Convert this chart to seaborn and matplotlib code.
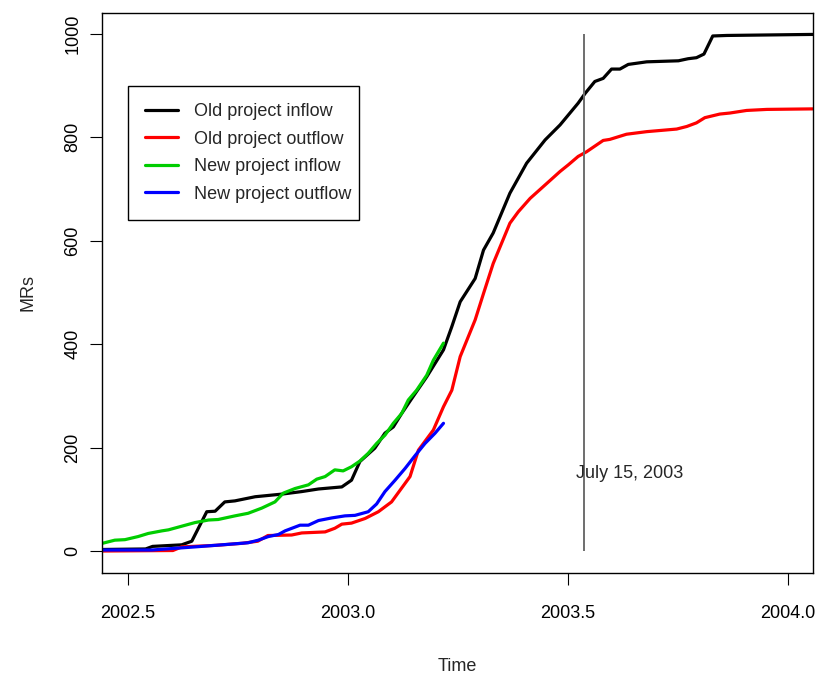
"""
Cumulative MRs over time: old vs new project inflow / outflow.
"""

import pandas as pd
import matplotlib
matplotlib.use("Agg")
import matplotlib.pyplot as plt
from matplotlib.lines import Line2D
from matplotlib.patches import Rectangle
import seaborn as sns

# === data ===
old_in_t = [2002.440, 2002.540, 2002.556, 2002.622, 2002.645, 2002.679, 2002.698,
            2002.720, 2002.743, 2002.789, 2002.849, 2002.895, 2002.933, 2002.986,
            2003.008, 2003.027, 2003.061, 2003.084, 2003.103, 2003.122, 2003.145,
            2003.179, 2003.217, 2003.236, 2003.255, 2003.289, 2003.308, 2003.330,
            2003.368, 2003.406, 2003.448, 2003.482, 2003.523, 2003.539, 2003.561,
            2003.580, 2003.599, 2003.618, 2003.637, 2003.679, 2003.751, 2003.773,
            2003.792, 2003.809, 2003.829, 2003.861, 2004.056]
old_in_v = [3, 4, 9, 12, 19, 76, 77,
            95, 97, 105, 110, 115, 120, 124,
            137, 173, 199, 228, 240, 266, 295,
            337, 389, 434, 482, 527, 582, 615,
            692, 750, 795, 824, 866, 885, 908,
            914, 932, 932, 941, 946, 948, 952,
            954, 961, 996, 997, 999]

old_out_t = [2002.440, 2002.602, 2002.622, 2002.700, 2002.760, 2002.795, 2002.818,
             2002.872, 2002.895, 2002.948, 2002.970, 2002.986, 2003.008, 2003.039,
             2003.069, 2003.099, 2003.141, 2003.160, 2003.194, 2003.217, 2003.236,
             2003.255, 2003.289, 2003.308, 2003.330, 2003.368, 2003.387, 2003.414,
             2003.452, 2003.482, 2003.501, 2003.523, 2003.542, 2003.580, 2003.595,
             2003.633, 2003.679, 2003.747, 2003.770, 2003.792, 2003.811, 2003.845,
             2003.868, 2003.906, 2003.952, 2004.056]
old_out_v = [0, 1, 8, 11, 15, 19, 30,
             31, 35, 37, 44, 52, 54, 63,
             76, 95, 144, 195, 234, 279, 311,
             376, 447, 498, 556, 634, 656, 682,
             711, 734, 747, 763, 772, 794, 796,
             806, 811, 816, 821, 828, 838, 845,
             847, 852, 854, 855]

new_in_t = [2002.442, 2002.470, 2002.493, 2002.523, 2002.546, 2002.577, 2002.592,
            2002.622, 2002.652, 2002.683, 2002.705, 2002.743, 2002.773, 2002.804,
            2002.834, 2002.853, 2002.880, 2002.910, 2002.929, 2002.948, 2002.970,
            2002.989, 2003.008, 2003.027, 2003.046, 2003.065, 2003.084, 2003.103,
            2003.122, 2003.137, 2003.156, 2003.179, 2003.194, 2003.217]
new_in_v = [15, 21, 22, 28, 34, 39, 41,
            48, 55, 60, 61, 68, 73, 83,
            95, 112, 121, 128, 139, 144, 157,
            155, 163, 174, 189, 208, 224, 247,
            266, 292, 311, 340, 369, 402]

new_out_t = [2002.440, 2002.554, 2002.652, 2002.728, 2002.773, 2002.796, 2002.819,
             2002.842, 2002.857, 2002.891, 2002.910, 2002.933, 2002.963, 2002.993,
             2003.016, 2003.046, 2003.065, 2003.084, 2003.107, 2003.130, 2003.152,
             2003.175, 2003.198, 2003.217]
new_out_v = [2, 2, 8, 13, 16, 21, 28,
             32, 39, 50, 50, 59, 64, 68,
             69, 76, 91, 115, 137, 160, 184,
             208, 228, 247]

series_names = ["Old project inflow", "Old project outflow",
                "New project inflow", "New project outflow"]
series_colors = ["#000000", "#FF0000", "#00CD00", "#0000FF"]

marker_date = 2003.536
marker_label = "July 15, 2003"

# === long-form table ===
frames = []
for name, t, v in zip(series_names,
                      [old_in_t, old_out_t, new_in_t, new_out_t],
                      [old_in_v, old_out_v, new_in_v, new_out_v]):
    frames.append(pd.DataFrame({"Time": t, "MRs": v, "series": name}))
df = pd.concat(frames, ignore_index=True)

# === style ===
sns.set_style("ticks")
plt.rcParams["font.family"] = ["Liberation Sans", "DejaVu Sans"]
plt.rcParams["font.size"] = 13

fig = plt.figure(figsize=(8.22, 6.78), dpi=100)
ax = fig.add_axes([101.5 / 822, 1 - 572.5 / 678, 711 / 822, 559.8 / 678])

sns.lineplot(
    data=df, x="Time", y="MRs", hue="series",
    hue_order=series_names, palette=series_colors,
    linewidth=2.3, sort=False, legend=False, ax=ax,
)

ax.vlines(marker_date, 0, 1000, color="#6e6e6e", linewidth=1.4)
ax.text(marker_date + 0.105, 141, marker_label, ha="center", va="baseline",
        fontsize=13)

ax.set_xlim(2002.4398, 2004.0557)
ax.set_ylim(-41.5, 1041)
ax.set_xticks([2002.5, 2003.0, 2003.5, 2004.0])
ax.set_xticklabels(["2002.5", "2003.0", "2003.5", "2004.0"])
ax.set_yticks([0, 200, 400, 600, 800, 1000])
ax.set_yticklabels(["0", "200", "400", "600", "800", "1000"],
                   rotation=90, va="center")

ax.tick_params(axis="both", direction="out", length=8.6, width=0.8,
               color="black", labelsize=13, labelcolor="black")
ax.tick_params(axis="x", pad=15)
ax.tick_params(axis="y", pad=6)

for s in ax.spines.values():
    s.set_visible(True)
    s.set_color("black")
    s.set_linewidth(1.0)

ax.set_xlabel("Time", fontsize=13, labelpad=26)
ax.set_ylabel("MRs", fontsize=13, labelpad=20)

# legend box drawn separately (R-style tight right padding)
ax.add_patch(Rectangle((0.0377, 0.6297), 0.3249, 0.2399, transform=ax.transAxes,
                       facecolor="white", edgecolor="black", linewidth=1.0,
                       zorder=4))
handles = [Line2D([0], [0], color=c, linewidth=2.3) for c in series_colors]
leg = ax.legend(
    handles, series_names, loc="upper left",
    bbox_to_anchor=(0.0377, 0.8675), borderaxespad=0,
    frameon=False, fontsize=13,
    handlelength=1.85, handletextpad=0.9, labelspacing=0.58, borderpad=0.9,
)
leg.set_zorder(5)

fig.savefig("out.png", dpi=100)
